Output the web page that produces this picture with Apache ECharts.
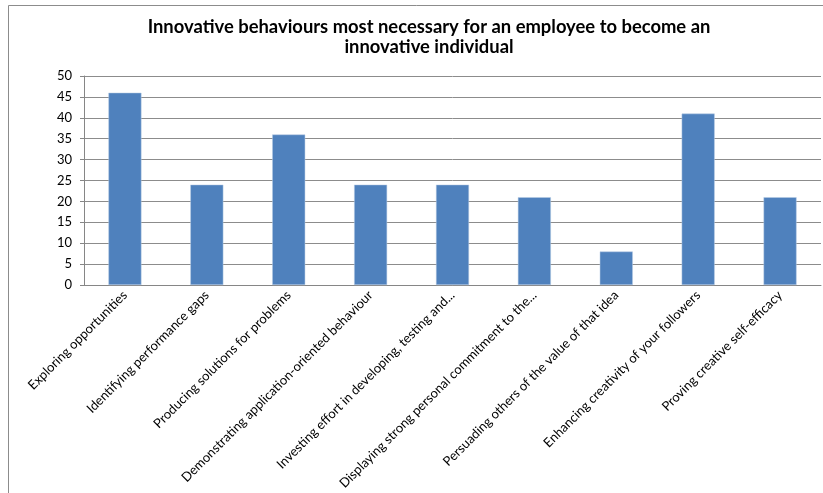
<!DOCTYPE html>
<html>
<head>
<meta charset="utf-8">
<script src="https://cdn.jsdelivr.net/npm/echarts@6/dist/echarts.min.js"></script>
<style>
  html, body { margin: 0; padding: 0; background: #ffffff; }
  #chart { width: 823px; height: 493px; }
</style>
</head>
<body>
<div id="chart"></div>
<script>
// Behaviour categories (labels as shown on the axis)
const categories = [
  'Exploring opportunities',
  'Identifying performance gaps',
  'Producing solutions for problems',
  'Demonstrating application-oriented behaviour',
  'Investing effort in developing, testing and...',
  'Displaying strong personal commitment to the...',
  'Persuading others of the value of that idea',
  'Enhancing creativity of your followers',
  'Proving creative self-efficacy'
];
// Number of responses per behaviour
const values = [46, 24, 36, 24, 24, 21, 8, 41, 21];
// Value axis ticks
const yTicks = [0, 5, 10, 15, 20, 25, 30, 35, 40, 45, 50];

const FONT = 'Lato, "Open Sans", sans-serif';

const chart = echarts.init(document.getElementById('chart'));
chart.setOption({
  animation: false,
  backgroundColor: '#ffffff',
  title: {
    text: 'Innovative behaviours most necessary for an employee to become an\ninnovative individual',
    left: 424,
    top: 12,
    textAlign: 'center',
    textStyle: {
      fontFamily: FONT,
      fontWeight: 'bold',
      fontSize: 18.4,
      lineHeight: 20,
      color: '#000000'
    }
  },
  graphic: [{
    type: 'rect',
    shape: { x: 8.5, y: 5.5, width: 900, height: 600 },
    style: { fill: 'none', stroke: '#8c8c8c', lineWidth: 1 },
    z: -1
  }],
  grid: { left: 84, right: 2, top: 76, bottom: 208 },
  xAxis: {
    type: 'category',
    data: categories,
    axisLine: { lineStyle: { color: '#868686' } },
    axisTick: { show: false },
    axisLabel: {
      rotate: 45,
      interval: 0,
      margin: 8,
      fontFamily: FONT,
      fontSize: 13,
      color: '#000000'
    }
  },
  yAxis: {
    type: 'value',
    min: yTicks[0],
    max: yTicks[yTicks.length - 1],
    interval: 5,
    axisLine: { show: true, lineStyle: { color: '#868686' } },
    axisTick: { show: true, length: 4, inside: false, lineStyle: { color: '#868686' } },
    splitLine: { lineStyle: { color: '#8c8c8c', width: 1 } },
    axisLabel: {
      margin: 12,
      fontFamily: FONT,
      fontSize: 13,
      color: '#000000'
    }
  },
  series: [{
    type: 'bar',
    data: values,
    barWidth: 33,
    itemStyle: { color: '#4f81bd', borderColor: '#b9cde5', borderWidth: 0.5 }
  }]
});
</script>
</body>
</html>
